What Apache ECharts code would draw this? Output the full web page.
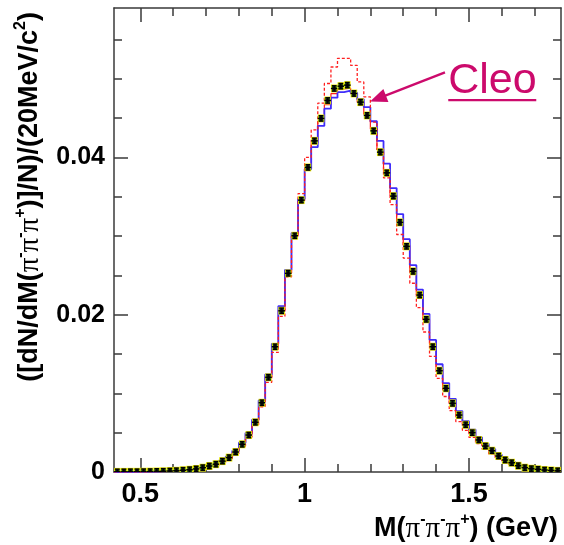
<!DOCTYPE html>
<html>
<head>
<meta charset="utf-8">
<script src="https://cdn.jsdelivr.net/npm/echarts@6/dist/echarts.min.js"></script>
<style>
  html, body { margin: 0; padding: 0; background: #fff; }
  #chart { width: 564px; height: 545px; }
</style>
</head>
<body>
<div id="chart"></div>
<script>
// Three-pion invariant mass spectrum, 20 MeV bins from 0.42 to 1.78 GeV.
const massCenters = [
  0.43, 0.45, 0.47, 0.49, 0.51, 0.53, 0.55, 0.57, 0.59, 0.61,
  0.63, 0.65, 0.67, 0.69, 0.71, 0.73, 0.75, 0.77, 0.79, 0.81,
  0.83, 0.85, 0.87, 0.89, 0.91, 0.93, 0.95, 0.97, 0.99, 1.01,
  1.03, 1.05, 1.07, 1.09, 1.11, 1.13, 1.15, 1.17, 1.19, 1.21,
  1.23, 1.25, 1.27, 1.29, 1.31, 1.33, 1.35, 1.37, 1.39, 1.41,
  1.43, 1.45, 1.47, 1.49, 1.51, 1.53, 1.55, 1.57, 1.59, 1.61,
  1.63, 1.65, 1.67, 1.69, 1.71, 1.73, 1.75, 1.77
];
const BIN_W = 0.02;

// Measured spectrum (points with error boxes)
const measured = [
  0.00002, 0.00002, 0.00003, 0.00003, 0.00004, 0.00005, 0.00007, 0.00009, 0.00012, 0.00016,
  0.00022, 0.00029, 0.00039, 0.00055, 0.00076, 0.00099, 0.00138, 0.00183, 0.00254, 0.00352,
  0.00470, 0.00632, 0.00881, 0.01204, 0.01593, 0.02050, 0.02526, 0.03004, 0.03457, 0.03873,
  0.04211, 0.04496, 0.04724, 0.04877, 0.04906, 0.04919, 0.04813, 0.04703, 0.04534, 0.04338,
  0.04067, 0.03804, 0.03508, 0.03174, 0.02869, 0.02551, 0.02250, 0.01941, 0.01593, 0.01288,
  0.01064, 0.00873, 0.00724, 0.00601, 0.00500, 0.00407, 0.00330, 0.00271, 0.00203, 0.00153,
  0.00118, 0.00080, 0.00055, 0.00042, 0.00034, 0.00025, 0.00020, 0.00015
];

// Model histogram drawn in blue
const modelBlue = [
  0.00002, 0.00002, 0.00003, 0.00004, 0.00005, 0.00006, 0.00008, 0.00010, 0.00014, 0.00018,
  0.00025, 0.00033, 0.00044, 0.00060, 0.00082, 0.00106, 0.00148, 0.00196, 0.00270, 0.00372,
  0.00496, 0.00665, 0.00910, 0.01240, 0.01630, 0.02110, 0.02570, 0.03040, 0.03470, 0.03850,
  0.04130, 0.04400, 0.04620, 0.04760, 0.04830, 0.04850, 0.04820, 0.04740, 0.04640, 0.04460,
  0.04210, 0.03920, 0.03610, 0.03280, 0.02960, 0.02630, 0.02320, 0.02010, 0.01680, 0.01370,
  0.01130, 0.00930, 0.00775, 0.00645, 0.00540, 0.00440, 0.00358, 0.00292, 0.00220, 0.00168,
  0.00130, 0.00092, 0.00066, 0.00050, 0.00038, 0.00028, 0.00022, 0.00016
];

// Model histogram drawn in solid red
const modelRed = [
  0.00002, 0.00002, 0.00003, 0.00003, 0.00004, 0.00005, 0.00007, 0.00009, 0.00012, 0.00016,
  0.00022, 0.00030, 0.00040, 0.00056, 0.00077, 0.00100, 0.00140, 0.00186, 0.00258, 0.00356,
  0.00478, 0.00642, 0.00890, 0.01210, 0.01600, 0.02060, 0.02530, 0.03000, 0.03450, 0.03860,
  0.04180, 0.04460, 0.04670, 0.04810, 0.04870, 0.04880, 0.04810, 0.04700, 0.04550, 0.04360,
  0.04100, 0.03820, 0.03520, 0.03190, 0.02880, 0.02560, 0.02250, 0.01940, 0.01620, 0.01310,
  0.01080, 0.00880, 0.00730, 0.00610, 0.00500, 0.00410, 0.00330, 0.00270, 0.00200, 0.00150,
  0.00115, 0.00080, 0.00056, 0.00042, 0.00032, 0.00024, 0.00018, 0.00013
];

// CLEO parametrisation (dashed red)
const cleoModel = [
  0.00001, 0.00002, 0.00002, 0.00003, 0.00003, 0.00004, 0.00005, 0.00007, 0.00010, 0.00013,
  0.00018, 0.00025, 0.00034, 0.00048, 0.00067, 0.00090, 0.00125, 0.00168, 0.00235, 0.00328,
  0.00445, 0.00600, 0.00830, 0.01140, 0.01520, 0.01980, 0.02480, 0.03000, 0.03540, 0.04000,
  0.04350, 0.04690, 0.04940, 0.05150, 0.05260, 0.05260, 0.05170, 0.04960, 0.04770, 0.04450,
  0.04100, 0.03740, 0.03400, 0.03020, 0.02720, 0.02400, 0.02090, 0.01780, 0.01470, 0.01190,
  0.00960, 0.00780, 0.00640, 0.00530, 0.00440, 0.00360, 0.00290, 0.00230, 0.00170, 0.00130,
  0.00098, 0.00068, 0.00048, 0.00035, 0.00027, 0.00020, 0.00015, 0.00011
];

const SYS_ERR = 0.00050;
const STAT_ERR = 0.00034;

// Axis ticks and labels
const xMajorTicks = [0.5, 1, 1.5];
const xMinorTicks = [0.6, 0.7, 0.8, 0.9, 1.1, 1.2, 1.3, 1.4, 1.6, 1.7];
const yMajorTicks = [0, 0.02, 0.04];
const yMinorTicks = [0.005, 0.01, 0.015, 0.025, 0.03, 0.035, 0.045, 0.05, 0.055];
const X_MIN = 0.42, X_MAX = 1.78, Y_MIN = 0, Y_MAX = 0.059;

// Annotation anchor points in data coordinates
const cleoLabelAt = [1.437, 0.0497];
const arrowTail = [1.427, 0.0508];
const arrowTip = [1.199, 0.0471];

function stepData(values) {
  const pts = massCenters.map((c, i) => [c - BIN_W / 2, values[i]]);
  const last = massCenters.length - 1;
  pts.push([massCenters[last] + BIN_W / 2, values[last]]);
  return pts;
}

const FRAME = { color: '#3a3a3a', width: 1.5 };
const SANS = 'Liberation Sans, Arial, sans-serif';

function xAxisDef(pos, ticks, len, withLabels, withLine) {
  return {
    type: 'value', min: X_MIN, max: X_MAX, position: pos,
    axisLine: { show: withLine, onZero: false, lineStyle: FRAME },
    axisTick: { show: true, inside: true, length: len, customValues: ticks, lineStyle: FRAME },
    axisLabel: withLabels ? {
      show: true, customValues: ticks, margin: 9,
      fontFamily: SANS, fontWeight: 'bold', fontSize: 27, color: '#000',
      formatter: v => String(v)
    } : { show: false },
    splitLine: { show: false }
  };
}
function yAxisDef(pos, ticks, len, withLabels, withLine) {
  return {
    type: 'value', min: Y_MIN, max: Y_MAX, position: pos,
    axisLine: { show: withLine, onZero: false, lineStyle: FRAME },
    axisTick: { show: true, inside: true, length: len, customValues: ticks, lineStyle: FRAME },
    axisLabel: withLabels ? {
      show: true, customValues: ticks, margin: 9,
      fontFamily: SANS, fontWeight: 'bold', fontSize: 25, color: '#000',
      formatter: v => (v === 0 ? '0' : v.toFixed(2))
    } : { show: false },
    splitLine: { show: false }
  };
}

function histSeries(name, values, color, width, type, z) {
  return {
    name, type: 'line', data: stepData(values), step: 'end',
    xAxisIndex: 0, yAxisIndex: 0, showSymbol: false, symbol: 'none',
    lineStyle: { color, width, type }, z, silent: true, animation: false
  };
}

const chart = echarts.init(document.getElementById('chart'), null, { renderer: 'canvas' });

const option = {
  backgroundColor: '#fff',
  animation: false,
  grid: { left: 114, right: 3, top: 8, bottom: 73, containLabel: false, outerBoundsMode: 'none' },
  xAxis: [
    xAxisDef('bottom', xMajorTicks, 14, true, true),
    xAxisDef('bottom', xMinorTicks, 8, false, false),
    xAxisDef('top', xMajorTicks, 14, false, true),
    xAxisDef('top', xMinorTicks, 8, false, false)
  ],
  yAxis: [
    yAxisDef('left', yMajorTicks, 14, true, true),
    yAxisDef('left', yMinorTicks, 8, false, false),
    yAxisDef('right', yMajorTicks, 14, false, true),
    yAxisDef('right', yMinorTicks, 8, false, false)
  ],
  series: [
    histSeries('model (red)', modelRed, '#ff1a1a', 1.2, 'solid', 3),
    histSeries('model (blue)', modelBlue, '#3f2dfa', 1.8, 'solid', 4),
    histSeries('Cleo', cleoModel, '#ff2020', 1.3, [3, 2], 5),
    {
      name: 'data', type: 'custom', xAxisIndex: 0, yAxisIndex: 0, z: 6, clip: true,
      data: massCenters.map((c, i) => [c, measured[i]]),
      encode: { x: 0, y: 1 },
      renderItem: function (params, api) {
        const p = api.coord([api.value(0), api.value(1)]);
        const w = api.size([BIN_W, 0])[0];
        const hs = api.size([0, SYS_ERR])[1];
        const he = api.size([0, STAT_ERR])[1];
        const cap = 2.4;
        const ink = { stroke: '#000', lineWidth: 1.5 };
        return {
          type: 'group',
          children: [
            { type: 'rect', shape: { x: p[0] - w / 2, y: p[1] - hs, width: w, height: 2 * hs }, style: { fill: '#e6e600' } },
            { type: 'rect', shape: { x: p[0] - w / 2 + 1, y: p[1] - hs + 1.5, width: w - 2, height: 2 * hs - 3 }, style: { fill: '#28c828' } },
            { type: 'rect', shape: { x: p[0] - 2, y: p[1] - 2, width: 4, height: 4 }, style: { fill: '#1a1a1a' } },
            { type: 'line', shape: { x1: p[0] - w / 2, y1: p[1], x2: p[0] + w / 2, y2: p[1] }, style: ink },
            { type: 'line', shape: { x1: p[0], y1: p[1] - he, x2: p[0], y2: p[1] + he }, style: ink },
            { type: 'line', shape: { x1: p[0] - cap, y1: p[1] - he, x2: p[0] + cap, y2: p[1] - he }, style: ink },
            { type: 'line', shape: { x1: p[0] - cap, y1: p[1] + he, x2: p[0] + cap, y2: p[1] + he }, style: ink }
          ]
        };
      }
    }
  ]
};
chart.setOption(option);

// Titles and the Cleo annotation
const toPx = v => chart.convertToPixel({ xAxisIndex: 0, yAxisIndex: 0 }, v);
const tip = toPx(arrowTip);
const tail = toPx(arrowTail);
const lab = toPx(cleoLabelAt);
const dx = tip[0] - tail[0], dy = tip[1] - tail[1];
const len = Math.sqrt(dx * dx + dy * dy);
const ux = dx / len, uy = dy / len;
const headLen = 17, headHalf = 7;
const baseX = tip[0] - ux * headLen, baseY = tip[1] - uy * headLen;
const MAGENTA = '#cc0a6c';

const titleRich = {
  p: { fontFamily: 'Liberation Serif, DejaVu Serif, serif', fontWeight: 'normal', fontSize: 29, fill: '#000', verticalAlign: 'middle', lineHeight: 34 },
  s: { fontFamily: SANS, fontWeight: 'bold', fontSize: 16, fill: '#000', verticalAlign: 'top', lineHeight: 16 }
};

chart.setOption({
  graphic: [
    {
      type: 'text', x: 558, y: 529,
      style: {
        text: 'M({p|π}{s|-}{p|π}{s|-}{p|π}{s|+}) (GeV)',
        fontFamily: SANS, fontWeight: 'bold', fontSize: 27,
        fill: '#000', align: 'right', verticalAlign: 'middle', textAlign: 'right', textVerticalAlign: 'middle',
        lineHeight: 34, rich: titleRich
      }
    },
    {
      type: 'text', x: 30, y: 12, rotation: Math.PI / 2,
      style: {
        text: '([dN/dM({p|π}{s|-}{p|π}{s|-}{p|π}{s|+})]/N)/(20MeV/c{s|2})',
        fontFamily: SANS, fontWeight: 'bold', fontSize: 27,
        fill: '#000', align: 'right', verticalAlign: 'middle', textAlign: 'right', textVerticalAlign: 'middle',
        lineHeight: 34, rich: titleRich
      }
    },
    {
      type: 'text', x: lab[0], y: lab[1],
      style: {
        text: 'Cleo', fontFamily: SANS, fontSize: 43,
        fill: MAGENTA, align: 'left', verticalAlign: 'middle', textAlign: 'left', textVerticalAlign: 'middle'
      }
    },
    {
      type: 'line',
      shape: { x1: lab[0], y1: lab[1] + 19, x2: lab[0] + 88, y2: lab[1] + 19 },
      style: { stroke: MAGENTA, lineWidth: 2.4 }
    },
    {
      type: 'line',
      shape: { x1: tail[0], y1: tail[1], x2: baseX + ux * 2, y2: baseY + uy * 2 },
      style: { stroke: MAGENTA, lineWidth: 2.4 }
    },
    {
      type: 'polygon',
      shape: { points: [
        [tip[0], tip[1]],
        [baseX - uy * headHalf, baseY + ux * headHalf],
        [baseX + uy * headHalf, baseY - ux * headHalf]
      ] },
      style: { fill: MAGENTA }
    }
  ]
});
</script>
</body>
</html>
